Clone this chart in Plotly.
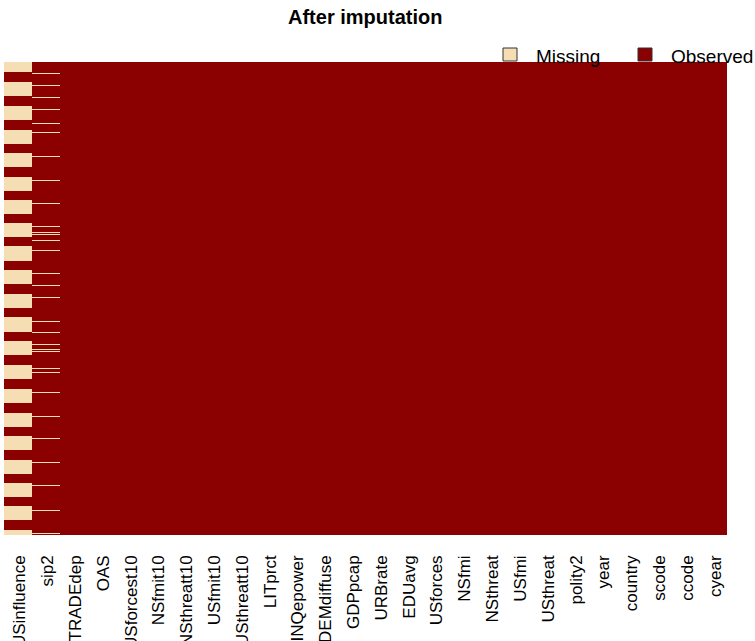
import plotly.graph_objects as go

# Variables in the dataset, in plotted order (left to right)
variables = [
    "USinfluence", "sip2", "TRADEdep", "OAS", "USforcest10", "NSfmit10",
    "NSthreatt10", "USfmit10", "USthreatt10", "LITprct", "INQepower",
    "DEMdiffuse", "GDPpcap", "URBrate", "EDUavg", "USforces", "NSfmi",
    "NSthreat", "USfmi", "USthreat", "polity2", "year", "country",
    "scode", "ccode", "cyear",
]

n_rows = 473

# Missing observations: runs of rows [start, end) for USinfluence
usinfluence_missing_runs = [
    (0, 10), (20, 34), (44, 58), (68, 82), (91, 105), (115, 129),
    (138, 152), (161, 175), (184, 199), (208, 222), (232, 246),
    (255, 270), (279, 293), (303, 317), (327, 341), (351, 365),
    (374, 388), (398, 412), (421, 435), (444, 458), (468, 473),
]

# Missing observations: single rows for sip2
sip2_missing_rows = [
    11, 23, 35, 47, 61, 70, 94, 118, 141, 164, 170, 172, 178, 188,
    211, 223, 235, 259, 270, 282, 287, 289, 306, 310, 330, 354, 376,
    400, 423, 448, 471,
]

# 1 = observed, 0 = missing
z = [[1] * len(variables) for _ in range(n_rows)]
for start, end in usinfluence_missing_runs:
    for r in range(start, end):
        z[r][0] = 0
for r in sip2_missing_rows:
    z[r][1] = 0

MISSING_COLOR = "#F5DEB3"   # wheat
OBSERVED_COLOR = "#8B0000"  # darkred

W, H = 755, 641
L, R, T, B = 4, 28, 62, 106
plot_w, plot_h = W - L - R, H - T - B


def px_x(px):
    return (px - L) / plot_w


def px_y(py):
    return (H - B - py) / plot_h


col_index = list(range(len(variables)))

fig = go.Figure(
    go.Heatmap(
        z=z,
        x=col_index,
        y=list(range(n_rows)),
        colorscale=[[0, MISSING_COLOR], [0.5, MISSING_COLOR],
                    [0.5, OBSERVED_COLOR], [1, OBSERVED_COLOR]],
        zmin=0, zmax=1,
        showscale=False,
        hoverinfo="skip",
        zsmooth=False,
    )
)

font_family = "Liberation Sans, Arial, sans-serif"

annotations = [
    dict(text="<b>After imputation</b>", x=px_x(365), y=px_y(17),
         xref="paper", yref="paper", xanchor="center", yanchor="middle",
         showarrow=False, font=dict(size=20, color="black", family=font_family)),
    dict(text="Missing", x=px_x(534), y=px_y(56),
         xref="paper", yref="paper", xanchor="left", yanchor="middle",
         showarrow=False, font=dict(size=19, color="black", family=font_family)),
    dict(text="Observed", x=px_x(669), y=px_y(56),
         xref="paper", yref="paper", xanchor="left", yanchor="middle",
         showarrow=False, font=dict(size=19, color="black", family=font_family)),
]

shapes = [
    dict(type="rect", xref="paper", yref="paper",
         x0=px_x(503), x1=px_x(517), y0=px_y(61), y1=px_y(48),
         fillcolor=MISSING_COLOR, line=dict(color="#333333", width=1)),
    dict(type="rect", xref="paper", yref="paper",
         x0=px_x(638), x1=px_x(652), y0=px_y(61), y1=px_y(48),
         fillcolor=OBSERVED_COLOR, line=dict(color="#333333", width=1)),
]

fig.update_layout(
    template="none",
    width=W, height=H,
    margin=dict(l=L, r=R, t=T, b=B, pad=0),
    paper_bgcolor="white", plot_bgcolor="white",
    font=dict(family=font_family, color="black"),
    annotations=annotations,
    shapes=shapes,
    showlegend=False,
)

fig.update_xaxes(
    range=[-0.5, len(variables) - 0.5],
    tickmode="array",
    tickvals=[i + 0.07 for i in col_index],
    ticktext=variables,
    tickangle=-90,
    tickfont=dict(size=17, color="black", family=font_family),
    ticks="", showgrid=False, zeroline=False, showline=False,
    automargin=False, ticklabelstandoff=16,
)
fig.update_yaxes(
    autorange="reversed", showticklabels=False, ticks="",
    showgrid=False, zeroline=False, showline=False, automargin=False,
)

fig.write_html("out.html")
